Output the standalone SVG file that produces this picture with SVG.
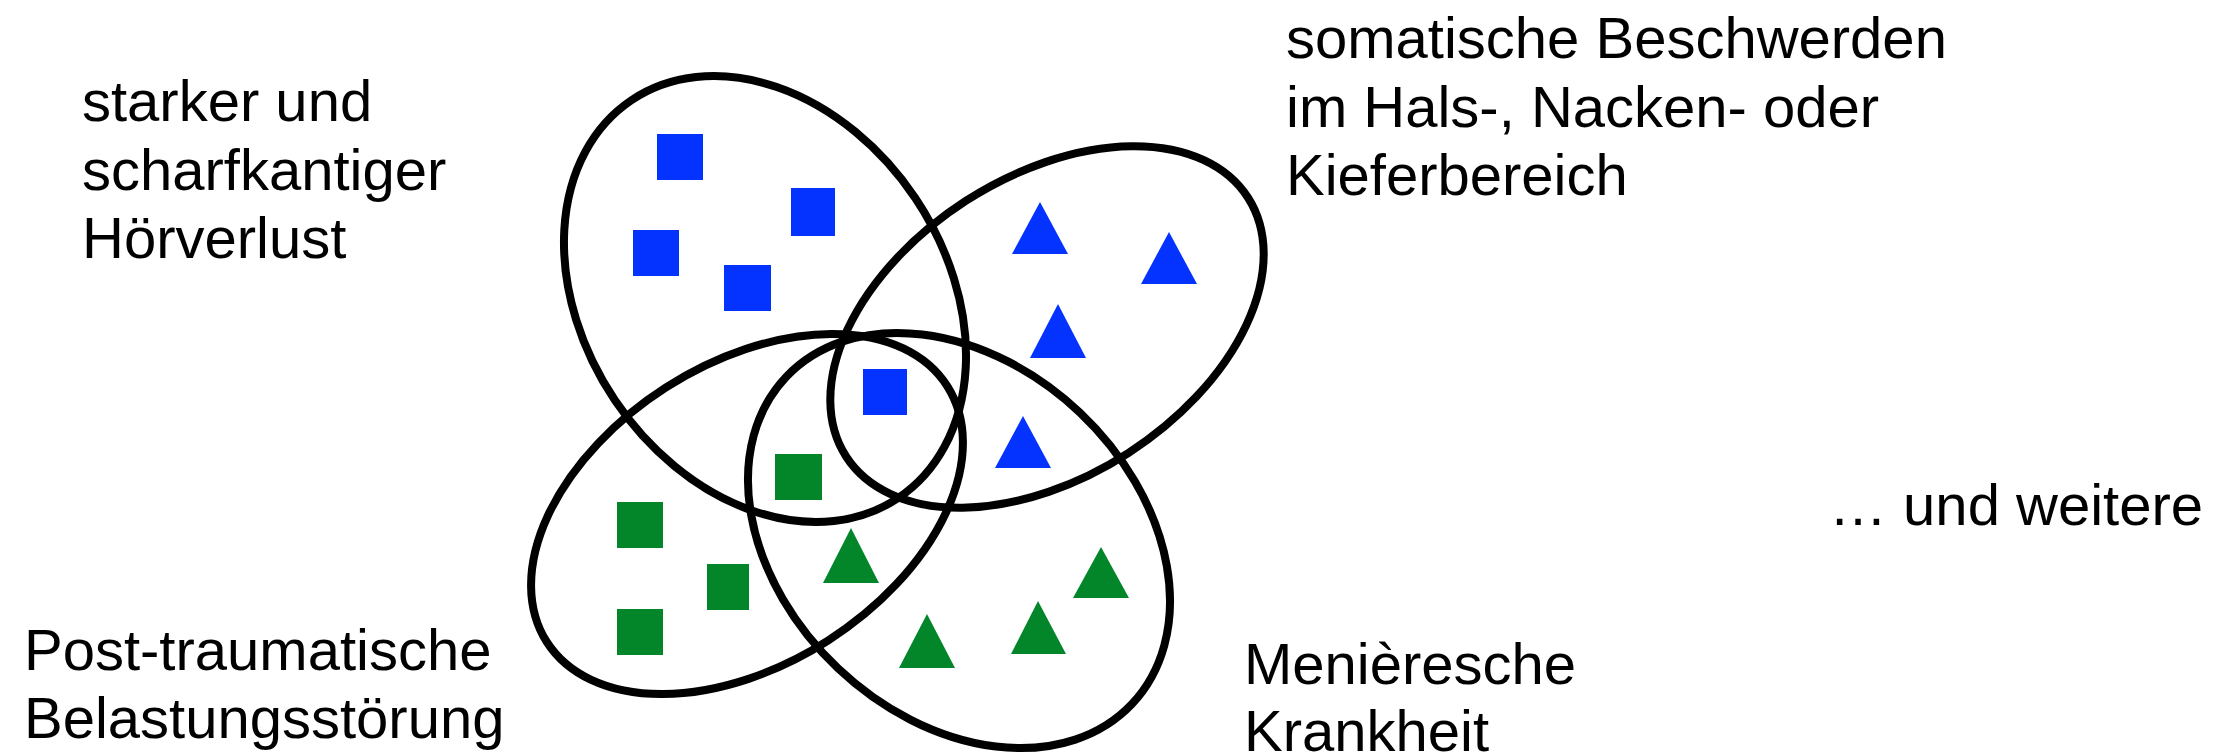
<svg xmlns="http://www.w3.org/2000/svg" width="2235" height="755" viewBox="0 0 2235 755">
<style>
.set{fill:none;stroke:#000;stroke-width:8}
.b{fill:#0432FF}
.g{fill:#03862A}
.lbl{font-family:"Liberation Sans",Arial,sans-serif;font-size:58px;fill:#000}
</style>
<rect width="2235" height="755" fill="#fff"/>
<g id="sets">
<ellipse id="set-hoerverlust" class="set" cx="765" cy="299" rx="239.5" ry="181" transform="rotate(56.1 765 299)"/>
<ellipse id="set-somatisch" class="set" cx="1047" cy="327" rx="239" ry="150" transform="rotate(-32.8 1047 327)"/>
<ellipse id="set-ptbs" class="set" cx="747" cy="514" rx="237.6" ry="150.3" transform="rotate(-32.6 747 514)"/>
<ellipse id="set-meniere" class="set" cx="959" cy="540.5" rx="238" ry="176" transform="rotate(43.4 959 540.5)"/>
</g>
<g id="blue-squares">
<rect class="b" x="657" y="134" width="46" height="46"/>
<rect class="b" x="791" y="188" width="44" height="48"/>
<rect class="b" x="633" y="230" width="46" height="46"/>
<rect class="b" x="724" y="265" width="47" height="46"/>
<rect class="b" x="863" y="369" width="44" height="46"/>
</g>
<g id="green-squares">
<rect class="g" x="775" y="454" width="47" height="46"/>
<rect class="g" x="617" y="502" width="46" height="46"/>
<rect class="g" x="707" y="564" width="42" height="46"/>
<rect class="g" x="617" y="609" width="46" height="46"/>
</g>
<g id="blue-triangles">
<polygon class="b" points="1040,202 1068,254 1012,254"/>
<polygon class="b" points="1169,232 1197,284 1141,284"/>
<polygon class="b" points="1058,304 1086,358 1030,358"/>
<polygon class="b" points="1023,416 1051,468 995,468"/>
</g>
<g id="green-triangles">
<polygon class="g" points="851,528 879,583 823,583"/>
<polygon class="g" points="927,614 955,668 899,668"/>
<polygon class="g" points="1038,601 1066,654 1011,654"/>
<polygon class="g" points="1101,547 1129,598 1073,598"/>
</g>
<g id="label-hoerverlust" class="lbl">
<text x="82" y="121">starker und</text>
<text x="82" y="190">scharfkantiger</text>
<text x="82" y="258">Hörverlust</text>
</g>
<g id="label-somatisch" class="lbl">
<text x="1286" y="58">somatische Beschwerden</text>
<text x="1286" y="127">im Hals-, Nacken- oder</text>
<text x="1286" y="195">Kieferbereich</text>
</g>
<g id="label-ptbs" class="lbl">
<text x="24" y="670">Post-traumatische</text>
<text x="24" y="738">Belastungsstörung</text>
</g>
<g id="label-meniere" class="lbl">
<text x="1244" y="684">Menièresche</text>
<text x="1244" y="751">Krankheit</text>
</g>
<g id="label-weitere" class="lbl">
<text x="1829" y="525">… und weitere</text>
</g>
</svg>
